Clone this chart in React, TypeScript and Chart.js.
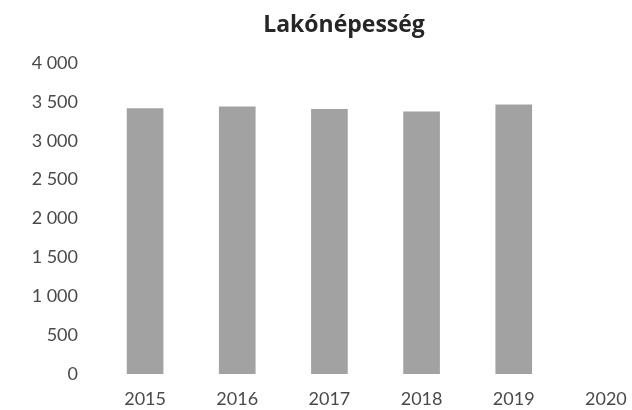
import React, { useEffect, useRef } from "react";
import { Chart, registerables } from "chart.js";

Chart.register(...registerables);

const categories: string[] = ["2015", "2016", "2017", "2018", "2019", "2020"];
const population: (number | null)[] = [3414, 3436, 3405, 3372, 3462, null];
const yTicks: number[] = [0, 500, 1000, 1500, 2000, 2500, 3000, 3500, 4000];
const chartTitle = "Lakónépesség";

const fmt = (n: number): string => {
  if (n < 1000) return String(n);
  return `${Math.floor(n / 1000)} ${String(n % 1000).padStart(3, "0")}`;
};

const centeredTitle = {
  id: "centeredTitle",
  afterDraw(chart: any) {
    const ctx = chart.ctx;
    ctx.save();
    ctx.fillStyle = "#262626";
    ctx.font = "bold 23px 'Open Sans'";
    ctx.textAlign = "center";
    ctx.textBaseline = "alphabetic";
    ctx.fillText(chartTitle, chart.width / 2, 32);
    ctx.restore();
  },
};

export default function App() {
  const ref = useRef<HTMLCanvasElement | null>(null);

  useEffect(() => {
    if (!ref.current) return;
    const chart = new Chart(ref.current, {
      type: "bar",
      data: {
        labels: categories,
        datasets: [
          {
            label: chartTitle,
            data: population,
            backgroundColor: "#a2a2a2",
            borderWidth: 0,
            barThickness: 36,
          },
        ],
      },
      plugins: [centeredTitle],
      options: {
        responsive: false,
        animation: false,
        devicePixelRatio: 1,
        layout: { padding: { left: 0, right: 36, top: 63, bottom: 0 } },
        plugins: {
          legend: { display: false },
          tooltip: { enabled: false },
          title: { display: false },
        },
        scales: {
          x: {
            type: "category",
            grid: { display: false, drawTicks: false },
            border: { display: false },
            ticks: {
              color: "#4a4a4a",
              font: { family: "Lato", size: 18 },
              padding: 14,
              maxRotation: 0,
              autoSkip: false,
            },
            afterFit: (scale: any) => {
              scale.height = 36;
            },
          },
          y: {
            min: 0,
            max: 4000,
            grid: { display: false, drawTicks: false },
            border: { display: false },
            afterBuildTicks: (scale: any) => {
              scale.ticks = yTicks.map((v) => ({ value: v }));
            },
            ticks: {
              color: "#4a4a4a",
              font: { family: "Lato", size: 18 },
              padding: 21,
              callback: (v: any) => fmt(Number(v)),
            },
            afterFit: (scale: any) => {
              scale.width = 99;
            },
          },
        },
      },
    });
    return () => chart.destroy();
  }, []);

  return (
    <div
      style={{
        position: "fixed",
        left: 0,
        top: 0,
        width: 632,
        height: 410,
        overflow: "hidden",
        background: "#ffffff",
      }}
    >
      <canvas ref={ref} width={688} height={410} style={{ display: "block", width: 688, height: 410 }} />
    </div>
  );
}
